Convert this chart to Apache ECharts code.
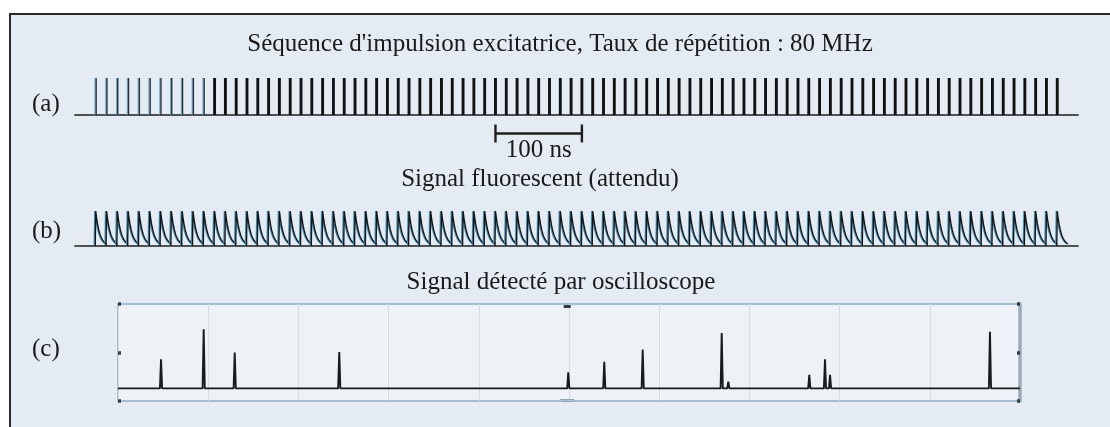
<!DOCTYPE html>
<html>
<head>
<meta charset="utf-8">
<script src="https://cdn.jsdelivr.net/npm/echarts@6/dist/echarts.min.js"></script>
<style>
html,body{margin:0;padding:0;background:#ffffff;overflow:hidden;}
#frame{position:absolute;left:9px;top:12.5px;width:1300px;height:600px;border:2.5px solid #2a2a2a;background:#e5ebf2;box-sizing:border-box;}
#chart{position:absolute;left:0;top:0;width:1110px;height:427px;}
</style>
</head>
<body>
<div id="frame"></div>
<div id="chart"></div>
<script>
// ---------------- DATA ----------------
const PERIOD_NS = 12.5;                 // 80 MHz repetition
const titleA = "Séquence d'impulsion excitatrice, Taux de répétition : 80 MHz";
const titleB = "Signal fluorescent (attendu)";
const titleC = "Signal détecté par oscilloscope";
const panelLabels = ["(a)", "(b)", "(c)"];

// (a) excitation pulses (relative amplitude), one per period
const pulseAmp = [
  1,1,1,1,1,1,1,1,1,1,
  1,1,1,1,1,1,1,1,1,1,
  1,1,1,1,1,1,1,1,1,1,
  1,1,1,1,1,1,1,1,1,1,
  1,1,1,1,1,1,1,1,1,1,
  1,1,1,1,1,1,1,1,1,1,
  1,1,1,1,1,1,1,1,1,1,
  1,1,1,1,1,1,1,1,1,1,
  1,1,1,1,1,1,1,1,1,1
];
const WEAK_PULSES = 11;                 // first pulses drawn thin
const scaleBarNs = [462.5, 562.5];
const scaleBarLabel = "100 ns";

// (b) expected fluorescence amplitude per pulse
const fluoAmp = [
  1,1,1,1,1,1,1,1,1,1,
  1,1,1,1,1,1,1,1,1,1,
  1,1,1,1,1,1,1,1,1,1,
  1,1,1,1,1,1,1,1,1,1,
  1,1,1,1,1,1,1,1,1,1,
  1,1,1,1,1,1,1,1,1,1,
  1,1,1,1,1,1,1,1,1,1,
  1,1,1,1,1,1,1,1,1,1,
  1,1,1,1,1,1,1,1,1,1
];
const FLUO_TAU_NS = 4.5;

// (c) oscilloscope trace: peaks (position in divisions, level in divisions)
const oscPeakPos = [0.477, 0.950, 1.294, 2.453, 4.992, 5.391, 5.817, 6.693, 6.766, 7.664, 7.838, 7.894, 9.667];
const oscPeakVal = [0.86, 1.48, 1.00, 1.01, 0.59, 0.81, 1.06, 1.40, 0.40, 0.54, 0.86, 0.54, 1.43];
const oscBaseline = 0.26;
const oscTrigger = 4.98;

// ---------------- BUILD ----------------
const pulseData = pulseAmp.map((a, i) => [i * PERIOD_NS, a]);
const fluoData = fluoAmp.map((a, i) => [i * PERIOD_NS, a]);
const oscData = [[0, oscBaseline]];
oscPeakPos.forEach((x, i) => {
  oscData.push([x - 0.012, oscBaseline], [x, oscPeakVal[i]], [x + 0.012, oscBaseline]);
});
oscData.push([10, oscBaseline]);

const FONT = '25px "Liberation Serif", "Times New Roman", serif';
const TXT = '#1a1a1a';
const X_MIN = -24, X_MAX = 1136.5;

const chart = echarts.init(document.getElementById('chart'), null, {renderer: 'canvas'});

const hideAxis = {axisLine:{show:false}, axisTick:{show:false}, axisLabel:{show:false}, splitLine:{show:false}};

const option = {
  animation: false,
  backgroundColor: 'transparent',
  grid: [
    {left: 75, top: 78, width: 1003, height: 37},
    {left: 75, top: 211, width: 1003, height: 35},
    {left: 118, top: 304, width: 902, height: 97, show: true, backgroundColor: '#eef1f5', borderColor: '#8eaec2', borderWidth: 1.5}
  ],
  xAxis: [
    {gridIndex: 0, type: 'value', min: X_MIN, max: X_MAX, axisLine: {show: true, onZero: false, lineStyle: {color: '#1e1e1e', width: 1.7}}, axisTick: {show: false}, axisLabel: {show: false}, splitLine: {show: false}},
    {gridIndex: 1, type: 'value', min: X_MIN, max: X_MAX, axisLine: {show: true, onZero: false, lineStyle: {color: '#1e1e1e', width: 1.7}}, axisTick: {show: false}, axisLabel: {show: false}, splitLine: {show: false}},
    {gridIndex: 2, type: 'value', min: 0, max: 10, interval: 1, axisLine: {show: false}, axisTick: {show: false}, axisLabel: {show: false}, splitLine: {show: true, lineStyle: {color: '#d6dce3', width: 1}}}
  ],
  yAxis: [
    Object.assign({gridIndex: 0, type: 'value', min: 0, max: 1}, hideAxis),
    Object.assign({gridIndex: 1, type: 'value', min: 0, max: 1}, hideAxis),
    {gridIndex: 2, type: 'value', min: 0, max: 2, interval: 1, axisLine: {show: false}, axisTick: {show: true, inside: true, length: 3, lineStyle: {color: '#33404b', width: 3.5}}, axisLabel: {show: false}, splitLine: {show: false}},
    {gridIndex: 2, type: 'value', position: 'right', min: 0, max: 2, interval: 1, axisLine: {show: true, lineStyle: {color: '#9aacba', width: 3.5}}, axisTick: {show: true, inside: true, length: 3, lineStyle: {color: '#33404b', width: 3.5}}, axisLabel: {show: false}, splitLine: {show: false}}
  ],
  series: [
    { // (a) pulses
      type: 'custom', xAxisIndex: 0, yAxisIndex: 0, data: pulseData,
      renderItem: function (params, api) {
        const t = api.value(0), a = api.value(1);
        const p0 = api.coord([t, 0]), p1 = api.coord([t, a]);
        const weak = params.dataIndex < WEAK_PULSES;
        const ch = [];
        if (weak) {
          ch.push({type: 'line', shape: {x1: p0[0] - 0.8, y1: p0[1], x2: p1[0] - 0.8, y2: p1[1]}, style: {stroke: '#6aa6cc', lineWidth: 1.1}});
          ch.push({type: 'line', shape: {x1: p0[0] + 0.4, y1: p0[1], x2: p1[0] + 0.4, y2: p1[1]}, style: {stroke: '#25313b', lineWidth: 1.4}});
        } else {
          ch.push({type: 'line', shape: {x1: p0[0], y1: p0[1], x2: p1[0], y2: p1[1]}, style: {stroke: '#121212', lineWidth: 2.9}});
        }
        return {type: 'group', children: ch};
      }
    },
    { // (a) scale bar
      type: 'custom', xAxisIndex: 0, yAxisIndex: 0, data: [scaleBarNs],
      renderItem: function (params, api) {
        const a = api.coord([api.value(0), 0]), b = api.coord([api.value(1), 0]);
        const y = a[1] + 18.5;
        const st = {stroke: '#1e1e1e', lineWidth: 2.4};
        return {type: 'group', children: [
          {type: 'line', shape: {x1: a[0], y1: y, x2: b[0], y2: y}, style: st},
          {type: 'line', shape: {x1: a[0], y1: y - 9, x2: a[0], y2: y + 9}, style: st},
          {type: 'line', shape: {x1: b[0], y1: y - 9, x2: b[0], y2: y + 9}, style: st},
          {type: 'text', style: {text: scaleBarLabel, x: (a[0] + b[0]) / 2, y: y + 16.5, align: 'center', verticalAlign: 'middle', font: FONT, fill: TXT}}
        ]};
      }
    },
    { // (b) fluorescence decay
      type: 'custom', xAxisIndex: 1, yAxisIndex: 1, data: fluoData,
      renderItem: function (params, api) {
        const t = api.value(0), a = api.value(1);
        const mk = function (shift) {
          const pts = [api.coord([t + shift - 0.6, 0])];
          for (let k = 0; k <= 25; k++) {
            const dt = k * 0.5;
            pts.push(api.coord([t + shift + dt, a * Math.exp(-dt / FLUO_TAU_NS)]));
          }
          return pts;
        };
        return {type: 'group', children: [
          {type: 'polyline', shape: {points: mk(-1.2)}, style: {stroke: '#3f93bd', lineWidth: 1.3, fill: null}},
          {type: 'polyline', shape: {points: mk(0)}, style: {stroke: '#151515', lineWidth: 1.4, fill: null}}
        ]};
      }
    },
    { // (c) oscilloscope trace
      type: 'line', xAxisIndex: 2, yAxisIndex: 2, data: oscData,
      showSymbol: false, symbol: 'none', smooth: false,
      lineStyle: {color: '#161b20', width: 1.9}
    },
    { // (c) trigger markers
      type: 'custom', xAxisIndex: 2, yAxisIndex: 2, data: [[oscTrigger]],
      renderItem: function (params, api) {
        const top = api.coord([api.value(0), 2]), bot = api.coord([api.value(0), 0]);
        return {type: 'group', children: [
          {type: 'rect', shape: {x: top[0] - 3.5, y: top[1] + 1, width: 7, height: 3}, style: {fill: '#2f3a44'}},
          {type: 'line', shape: {x1: bot[0] - 7, y1: bot[1] - 1.5, x2: bot[0] + 7, y2: bot[1] - 1.5}, style: {stroke: '#8fa3b3', lineWidth: 1}},
          {type: 'line', shape: {x1: bot[0] - 5, y1: bot[1] + 0.5, x2: bot[0] + 5, y2: bot[1] + 0.5}, style: {stroke: '#8fa3b3', lineWidth: 1}}
        ]};
      }
    }
  ],
  graphic: [
    {type: 'text', style: {text: titleA, x: 560, y: 44, align: 'center', verticalAlign: 'middle', font: FONT, fill: TXT}},
    {type: 'text', style: {text: panelLabels[0], x: 32, y: 104, align: 'left', verticalAlign: 'middle', font: FONT, fill: TXT}},
    {type: 'text', style: {text: titleB, x: 540, y: 179, align: 'center', verticalAlign: 'middle', font: FONT, fill: TXT}},
    {type: 'text', style: {text: panelLabels[1], x: 32, y: 231, align: 'left', verticalAlign: 'middle', font: FONT, fill: TXT}},
    {type: 'text', style: {text: titleC, x: 561, y: 282, align: 'center', verticalAlign: 'middle', font: FONT, fill: TXT}},
    {type: 'text', style: {text: panelLabels[2], x: 32, y: 349, align: 'left', verticalAlign: 'middle', font: FONT, fill: TXT}}
  ]
};
chart.setOption(option);
</script>
</body>
</html>
